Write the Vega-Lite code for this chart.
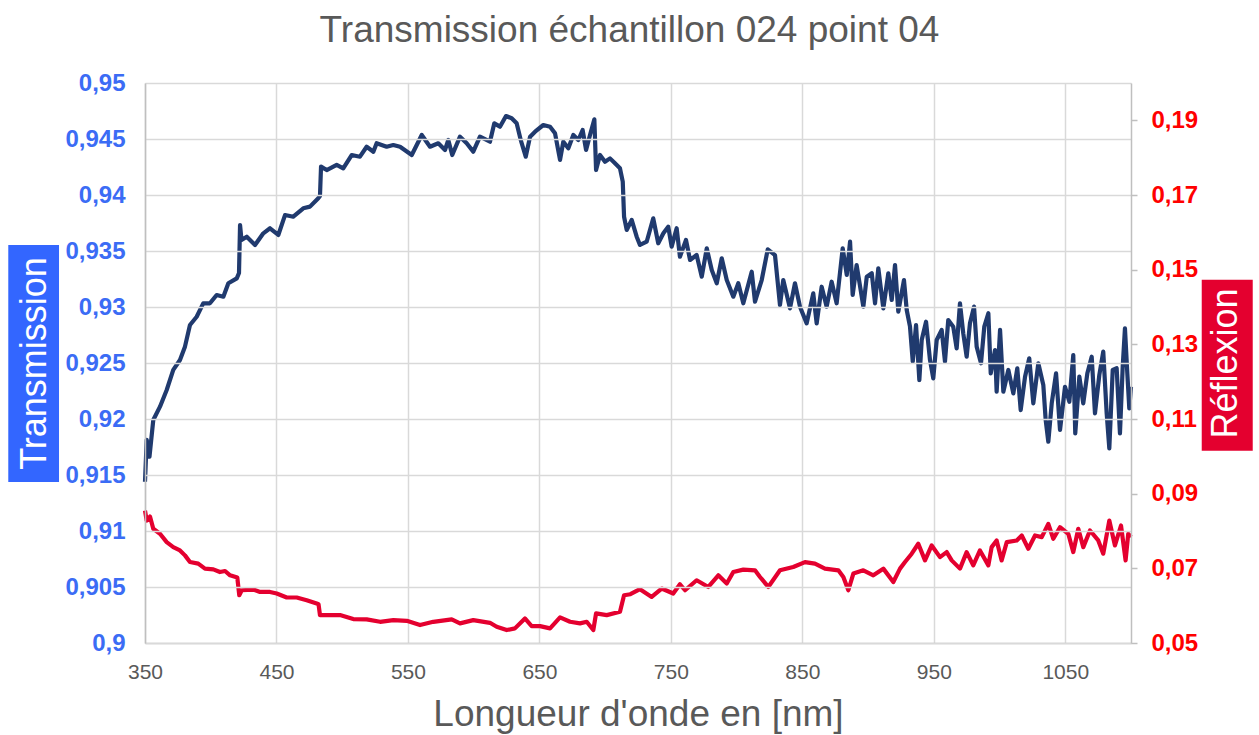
{
  "$schema": "https://vega.github.io/schema/vega-lite/v6.json",
  "width": 986,
  "height": 560,
  "autosize": {"type": "none"},
  "padding": {"left": 145, "top": 83, "right": 128, "bottom": 92},
  "background": "white",
  "config": {"font": "Liberation Sans", "view": {"stroke": null}, "axis": {"labelFont": "Liberation Sans", "titleFont": "Liberation Sans"}},
  "title": {"text": "Transmission échantillon 024 point 04", "fontSize": 37, "font": "Liberation Sans", "fontWeight": "normal", "color": "#595959", "anchor": "middle", "dx": -8.5, "dy": 37, "baseline": "alphabetic", "offset": 29},
  "datasets": {
    "T": [
      {"nm":350,"v":0.9144},{"nm":351.3,"v":0.91813},{"nm":353.4,"v":0.91663},{"nm":356.3,"v":0.91991},{"nm":361.4,"v":0.9211},{"nm":366.5,"v":0.92259},{"nm":371.5,"v":0.92438},{"nm":376.6,"v":0.92527},{"nm":380.4,"v":0.92646},{"nm":384.2,"v":0.92839},{"nm":389.3,"v":0.92913},{"nm":394.3,"v":0.93033},{"nm":399.4,"v":0.93033},{"nm":404.5,"v":0.93107},{"nm":409.6,"v":0.93092},{"nm":413.4,"v":0.93212},{"nm":419.8,"v":0.93256},{"nm":421.5,"v":0.93304},{"nm":422.3,"v":0.93732},{"nm":423.4,"v":0.93598},{"nm":427.4,"v":0.93628},{"nm":433.7,"v":0.93554},{"nm":440,"v":0.93658},{"nm":445.1,"v":0.93703},{"nm":451.4,"v":0.93643},{"nm":456.5,"v":0.93821},{"nm":462.8,"v":0.93806},{"nm":470.4,"v":0.93881},{"nm":475.5,"v":0.93896},{"nm":481.8,"v":0.93971},{"nm":483.1,"v":0.93991},{"nm":483.9,"v":0.94253},{"nm":488.2,"v":0.94223},{"nm":495.8,"v":0.94268},{"nm":500.8,"v":0.94238},{"nm":507.2,"v":0.94357},{"nm":513.5,"v":0.94342},{"nm":518.6,"v":0.94431},{"nm":523.7,"v":0.94386},{"nm":526.2,"v":0.94462},{"nm":533.8,"v":0.94431},{"nm":538.9,"v":0.94446},{"nm":544,"v":0.94431},{"nm":552.9,"v":0.94357},{"nm":560.5,"v":0.94536},{"nm":566.8,"v":0.94431},{"nm":573.1,"v":0.94462},{"nm":578.2,"v":0.94402},{"nm":580.7,"v":0.94491},{"nm":583.7,"v":0.94357},{"nm":589.6,"v":0.94521},{"nm":594.7,"v":0.94462},{"nm":599.7,"v":0.94387},{"nm":604.8,"v":0.94521},{"nm":612.4,"v":0.94476},{"nm":615.7,"v":0.9464},{"nm":620,"v":0.9461},{"nm":624.6,"v":0.94705},{"nm":628.9,"v":0.94685},{"nm":632.7,"v":0.9464},{"nm":635.8,"v":0.94491},{"nm":639.6,"v":0.94342},{"nm":642.9,"v":0.94521},{"nm":646.7,"v":0.94565},{"nm":653,"v":0.94625},{"nm":658.1,"v":0.9461},{"nm":661.9,"v":0.94551},{"nm":665.7,"v":0.94313},{"nm":668.2,"v":0.94476},{"nm":672,"v":0.94417},{"nm":675.8,"v":0.94536},{"nm":679.6,"v":0.94491},{"nm":682.9,"v":0.9458},{"nm":685.5,"v":0.94402},{"nm":688.5,"v":0.94536},{"nm":691.8,"v":0.94676},{"nm":693.1,"v":0.94223},{"nm":696.1,"v":0.94357},{"nm":699.9,"v":0.94297},{"nm":703.7,"v":0.94327},{"nm":707.5,"v":0.94283},{"nm":711.3,"v":0.94238},{"nm":713.4,"v":0.94119},{"nm":714.4,"v":0.93806},{"nm":716.4,"v":0.93688},{"nm":720.2,"v":0.93777},{"nm":724,"v":0.93628},{"nm":726.5,"v":0.93554},{"nm":731.6,"v":0.93583},{"nm":736.6,"v":0.93792},{"nm":740.4,"v":0.93569},{"nm":744.3,"v":0.93658},{"nm":748,"v":0.93717},{"nm":750.6,"v":0.93539},{"nm":754.4,"v":0.93703},{"nm":756.9,"v":0.93449},{"nm":761.5,"v":0.93598},{"nm":764.6,"v":0.9342},{"nm":769.6,"v":0.93464},{"nm":773.5,"v":0.93271},{"nm":777.3,"v":0.93524},{"nm":781.1,"v":0.9333},{"nm":784.9,"v":0.93212},{"nm":788.7,"v":0.93435},{"nm":792.5,"v":0.93241},{"nm":797.5,"v":0.93092},{"nm":801.3,"v":0.93212},{"nm":805.1,"v":0.93033},{"nm":811.5,"v":0.93315},{"nm":814,"v":0.93047},{"nm":819.1,"v":0.93241},{"nm":823.7,"v":0.93515},{"nm":829.2,"v":0.93464},{"nm":833,"v":0.93018},{"nm":835.5,"v":0.93241},{"nm":840.6,"v":0.92988},{"nm":844.4,"v":0.93212},{"nm":848.2,"v":0.93003},{"nm":853.3,"v":0.92854},{"nm":858.3,"v":0.93122},{"nm":860.9,"v":0.92854},{"nm":864.7,"v":0.93181},{"nm":868.5,"v":0.93003},{"nm":872.3,"v":0.93226},{"nm":876.1,"v":0.93033},{"nm":880.7,"v":0.93524},{"nm":883.8,"v":0.93286},{"nm":886.3,"v":0.93583},{"nm":888.3,"v":0.93107},{"nm":891.3,"v":0.93375},{"nm":896.4,"v":0.93003},{"nm":899,"v":0.93271},{"nm":902.8,"v":0.93301},{"nm":905.3,"v":0.93033},{"nm":907.8,"v":0.93346},{"nm":911.6,"v":0.92988},{"nm":915.4,"v":0.93301},{"nm":918,"v":0.93063},{"nm":920.5,"v":0.93375},{"nm":923,"v":0.92958},{"nm":927.3,"v":0.93241},{"nm":929.4,"v":0.92973},{"nm":931.9,"v":0.92824},{"nm":934,"v":0.92512},{"nm":936.5,"v":0.92839},{"nm":939,"v":0.92348},{"nm":940.8,"v":0.92705},{"nm":944.1,"v":0.92869},{"nm":947.1,"v":0.92527},{"nm":949.6,"v":0.92363},{"nm":952.2,"v":0.92705},{"nm":956,"v":0.92795},{"nm":958.5,"v":0.92512},{"nm":961,"v":0.92884},{"nm":964.8,"v":0.92824},{"nm":967.4,"v":0.92631},{"nm":969.9,"v":0.93033},{"nm":972.4,"v":0.92765},{"nm":975,"v":0.92556},{"nm":977.5,"v":0.92854},{"nm":980.6,"v":0.93003},{"nm":982.6,"v":0.92646},{"nm":985.9,"v":0.92497},{"nm":988.4,"v":0.92824},{"nm":991.5,"v":0.92944},{"nm":993.3,"v":0.92408},{"nm":996.6,"v":0.92616},{"nm":997.8,"v":0.92244},{"nm":1000.4,"v":0.92795},{"nm":1002.9,"v":0.92244},{"nm":1006.7,"v":0.92438},{"nm":1010.5,"v":0.92229},{"nm":1013.5,"v":0.92453},{"nm":1016.1,"v":0.9208},{"nm":1019.4,"v":0.92378},{"nm":1022.6,"v":0.92542},{"nm":1025.7,"v":0.9214},{"nm":1029.5,"v":0.92497},{"nm":1033.3,"v":0.92304},{"nm":1035.1,"v":0.91991},{"nm":1037.1,"v":0.91797},{"nm":1039.7,"v":0.9214},{"nm":1043,"v":0.92408},{"nm":1046,"v":0.91902},{"nm":1049.8,"v":0.92288},{"nm":1053.1,"v":0.92154},{"nm":1056.1,"v":0.92571},{"nm":1057.6,"v":0.91872},{"nm":1060.7,"v":0.92378},{"nm":1063.7,"v":0.9214},{"nm":1066.8,"v":0.92408},{"nm":1070.1,"v":0.92556},{"nm":1072.6,"v":0.92051},{"nm":1075.9,"v":0.92393},{"nm":1078.9,"v":0.92601},{"nm":1081.5,"v":0.92051},{"nm":1083.5,"v":0.91738},{"nm":1086.1,"v":0.92438},{"nm":1089.1,"v":0.92453},{"nm":1091.6,"v":0.91872},{"nm":1093.7,"v":0.92467},{"nm":1095.4,"v":0.9281},{"nm":1097.2,"v":0.92408},{"nm":1098.7,"v":0.92095},{"nm":1100,"v":0.92288}
    ],
    "R": [
      {"nm":350,"v":0.08547},{"nm":351.3,"v":0.0828},{"nm":353.8,"v":0.08387},{"nm":356.3,"v":0.08059},{"nm":361.4,"v":0.07925},{"nm":366.5,"v":0.07701},{"nm":371.5,"v":0.07568},{"nm":376.6,"v":0.0748},{"nm":380.4,"v":0.07347},{"nm":384.2,"v":0.07168},{"nm":390.5,"v":0.07125},{"nm":395.6,"v":0.06992},{"nm":402,"v":0.06973},{"nm":407,"v":0.06901},{"nm":410.9,"v":0.06928},{"nm":414.7,"v":0.06813},{"nm":420.2,"v":0.06752},{"nm":421.7,"v":0.0628},{"nm":423.6,"v":0.06413},{"nm":432.4,"v":0.06432},{"nm":437.5,"v":0.06368},{"nm":445.1,"v":0.06368},{"nm":450.2,"v":0.06325},{"nm":457.8,"v":0.06219},{"nm":465.4,"v":0.06219},{"nm":473,"v":0.06147},{"nm":480.6,"v":0.06059},{"nm":482,"v":0.0604},{"nm":483.1,"v":0.05747},{"nm":490.7,"v":0.05747},{"nm":498.3,"v":0.05747},{"nm":508.4,"v":0.0564},{"nm":518.6,"v":0.05632},{"nm":528.8,"v":0.05568},{"nm":538.9,"v":0.05613},{"nm":549.1,"v":0.05595},{"nm":559.2,"v":0.0548},{"nm":569.3,"v":0.05568},{"nm":583.3,"v":0.05632},{"nm":589.6,"v":0.05525},{"nm":599.7,"v":0.05613},{"nm":612.4,"v":0.05541},{"nm":617.5,"v":0.05435},{"nm":625.1,"v":0.05347},{"nm":631.4,"v":0.05392},{"nm":639,"v":0.05659},{"nm":644.1,"v":0.05453},{"nm":650.5,"v":0.05453},{"nm":658.1,"v":0.05392},{"nm":665.7,"v":0.05685},{"nm":673.3,"v":0.05568},{"nm":680.9,"v":0.05525},{"nm":686,"v":0.05568},{"nm":691,"v":0.05347},{"nm":693.1,"v":0.05792},{"nm":701.2,"v":0.05747},{"nm":711.3,"v":0.05835},{"nm":714.4,"v":0.0628},{"nm":719.2,"v":0.06307},{"nm":726.5,"v":0.0644},{"nm":735.4,"v":0.06235},{"nm":743,"v":0.06459},{"nm":751.8,"v":0.06325},{"nm":756.9,"v":0.06573},{"nm":760.8,"v":0.06413},{"nm":769.6,"v":0.0668},{"nm":778.5,"v":0.06501},{"nm":786.1,"v":0.06813},{"nm":792.5,"v":0.06592},{"nm":797.5,"v":0.06901},{"nm":805.1,"v":0.06965},{"nm":814,"v":0.06947},{"nm":817.8,"v":0.06768},{"nm":824.1,"v":0.06501},{"nm":833,"v":0.06947},{"nm":843.1,"v":0.07035},{"nm":852,"v":0.07168},{"nm":859.6,"v":0.07125},{"nm":867.2,"v":0.06992},{"nm":877.4,"v":0.06947},{"nm":881.2,"v":0.06768},{"nm":885,"v":0.06413},{"nm":888.8,"v":0.06859},{"nm":896.4,"v":0.06947},{"nm":904,"v":0.06813},{"nm":911.6,"v":0.06992},{"nm":919.2,"v":0.06635},{"nm":924.3,"v":0.06992},{"nm":928.1,"v":0.07168},{"nm":933.2,"v":0.07392},{"nm":938.2,"v":0.07659},{"nm":943.3,"v":0.07213},{"nm":948.4,"v":0.07613},{"nm":954.7,"v":0.07301},{"nm":959.8,"v":0.07435},{"nm":963.6,"v":0.07213},{"nm":969.9,"v":0.06992},{"nm":975,"v":0.07435},{"nm":980,"v":0.0708},{"nm":985.1,"v":0.0748},{"nm":991.5,"v":0.0708},{"nm":994,"v":0.07568},{"nm":997.8,"v":0.07747},{"nm":1001.6,"v":0.07213},{"nm":1005.5,"v":0.07701},{"nm":1013.1,"v":0.07747},{"nm":1016.9,"v":0.0788},{"nm":1021.9,"v":0.07525},{"nm":1027,"v":0.0788},{"nm":1032.1,"v":0.07835},{"nm":1037.1,"v":0.08192},{"nm":1040.9,"v":0.07792},{"nm":1046,"v":0.08101},{"nm":1052.3,"v":0.07925},{"nm":1056.1,"v":0.07435},{"nm":1059.9,"v":0.08059},{"nm":1063.7,"v":0.07568},{"nm":1068.8,"v":0.08013},{"nm":1075.1,"v":0.07747},{"nm":1078.9,"v":0.07392},{"nm":1083.5,"v":0.0828},{"nm":1087.8,"v":0.07613},{"nm":1092.4,"v":0.08147},{"nm":1095.9,"v":0.07213},{"nm":1097.9,"v":0.07925},{"nm":1100,"v":0.07835}
    ]
  },
  "layer": [
    {
      "layer": [
        {
          "data": {"values": [{}]},
          "mark": {"type": "rect", "color": "#3366FF"},
          "encoding": {
            "x": {"datum": 246, "type": "quantitative", "scale": {"domain": [350, 1100], "nice": false, "zero": false}},
            "x2": {"datum": 284.6},
            "y": {"datum": 0.93554, "type": "quantitative", "scale": {"domain": [0.9, 0.95], "nice": false, "zero": false}},
            "y2": {"datum": 0.91438}
          }
        },
        {
          "data": {"name": "T"},
          "mark": {"type": "line", "color": "#203A6E", "strokeWidth": 4.2, "strokeJoin": "round"},
          "encoding": {
            "x": {"field": "nm", "type": "quantitative", "scale": {"domain": [350, 1100], "nice": false, "zero": false},
              "axis": {"title": "Longueur d'onde en [nm]", "values": [350, 450, 550, 650, 750, 850, 950, 1050], "format": "d", "labelFontSize": 21, "labelColor": "#595959", "labelPadding": 18, "ticks": false, "tickSize": 0, "labelFlush": false, "labelOverlap": false, "domainColor": "#BFBFBF", "domainWidth": 1.5, "grid": true, "gridColor": "#D9D9D9", "gridWidth": 1.5, "titleFontSize": 37, "titleColor": "#595959", "titleFontWeight": "normal", "titlePadding": 14}},
            "y": {"field": "v", "type": "quantitative", "scale": {"domain": [0.9, 0.95], "nice": false, "zero": false},
              "axis": {"title": "Transmission", "titleColor": "white", "titleFontSize": 36, "titleFontWeight": "normal", "titleAngle": 270, "titleBaseline": "bottom", "titlePadding": 11, "values": [0.9, 0.905, 0.91, 0.915, 0.92, 0.925, 0.93, 0.935, 0.94, 0.945, 0.95], "labelExpr": "replace(format(datum.value, '.3~f'), '.', ',')", "labelFontSize": 24, "labelFontWeight": "bold", "labelColor": "#3B6CF5", "labelPadding": 20, "labelOverlap": false, "ticks": false, "tickSize": 0, "domainColor": "#BFBFBF", "domainWidth": 1.5, "grid": true, "gridColor": "#D9D9D9", "gridWidth": 1.5, "zindex": 1}}
          }
        }
      ]
    },
    {
      "layer": [
        {
          "data": {"values": [{}]},
          "mark": {"type": "rect", "color": "#E4002F"},
          "encoding": {
            "x": {"datum": 1153.8, "type": "quantitative"},
            "x2": {"datum": 1192.6},
            "y": {"datum": 0.14733, "type": "quantitative", "scale": {"domain": [0.05, 0.2], "nice": false, "zero": false}},
            "y2": {"datum": 0.10147}
          }
        },
        {
          "data": {"name": "R"},
          "mark": {"type": "line", "color": "#E4002F", "strokeWidth": 4.2, "strokeJoin": "round"},
          "encoding": {
            "x": {"field": "nm", "type": "quantitative"},
            "y": {"field": "v", "type": "quantitative", "scale": {"domain": [0.05, 0.2], "nice": false, "zero": false},
              "axis": {"orient": "right", "title": "Réflexion", "titleColor": "white", "titleFontSize": 36, "titleFontWeight": "normal", "titleAngle": 270, "titleBaseline": "top", "titlePadding": 11, "values": [0.05, 0.07, 0.09, 0.11, 0.13, 0.15, 0.17, 0.19], "labelExpr": "replace(format(datum.value, '.2f'), '.', ',')", "labelFontSize": 24, "labelFontWeight": "bold", "labelColor": "#FF0000", "labelPadding": 14, "labelOverlap": false, "ticks": true, "tickSize": 6, "tickColor": "#BFBFBF", "tickWidth": 1.5, "domainColor": "#BFBFBF", "domainWidth": 1.5, "grid": false, "zindex": 1}}
          }
        }
      ]
    }
  ],
  "resolve": {"scale": {"y": "independent"}}
}
